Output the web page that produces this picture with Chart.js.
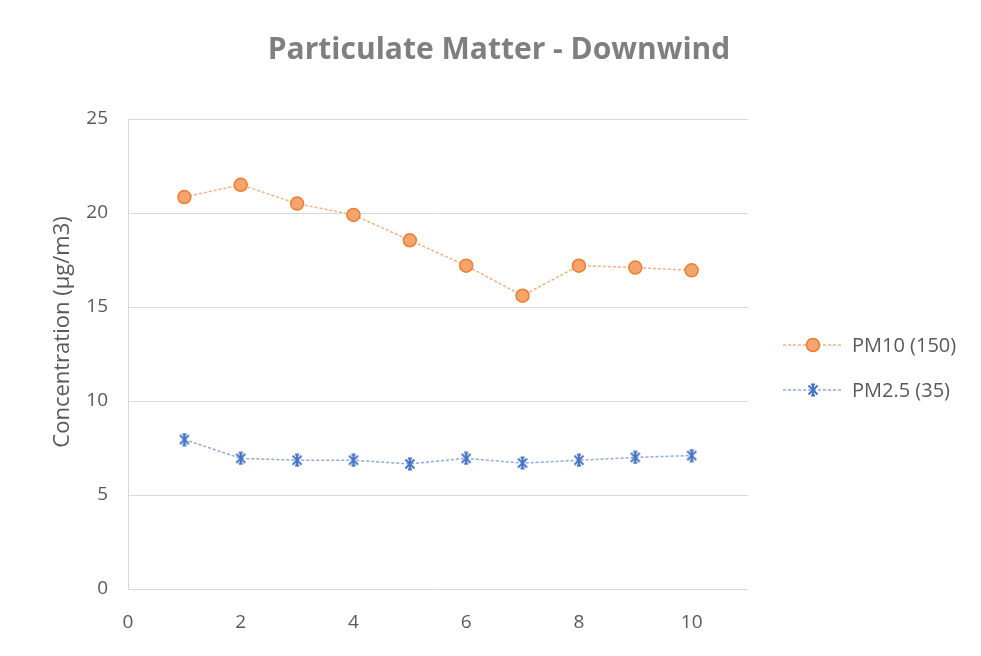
<!DOCTYPE html>
<html>
<head>
<meta charset="utf-8">
<script src="https://cdn.jsdelivr.net/npm/chart.js@4"></script>
<style>
  html, body { margin: 0; padding: 0; background: #fff; }
  #wrap { width: 981px; height: 656px; position: relative; }
</style>
</head>
<body>
<div id="wrap"><canvas id="chart" width="981" height="656"></canvas></div>
<script>
// Data
const samples = [1, 2, 3, 4, 5, 6, 7, 8, 9, 10];
const pm10 = [20.85, 21.5, 20.5, 19.9, 18.55, 17.2, 15.6, 17.2, 17.1, 16.95];
const pm25 = [7.95, 6.95, 6.85, 6.85, 6.65, 6.95, 6.7, 6.85, 7.0, 7.1];
const seriesNames = ['PM10 (150)', 'PM2.5 (35)'];
const xTicks = [0, 2, 4, 6, 8, 10];
const chartTitle = 'Particulate Matter - Downwind';
const yTitle = 'Concentration (\u00b5g/m3)';

const FONT = "'Open Sans', 'Liberation Sans', sans-serif";
const GREY = '#595959';

// Excel-like star marker (x with vertical bar and small caps)
function starMarker(color) {
    const c = document.createElement('canvas');
    c.width = 14; c.height = 14;
    const g = c.getContext('2d');
    g.strokeStyle = color;
    g.lineWidth = 2;
    g.beginPath();
    g.moveTo(2.5, 2.5); g.lineTo(11.5, 11.5);
    g.moveTo(11.5, 2.5); g.lineTo(2.5, 11.5);
    g.moveTo(7, 1); g.lineTo(7, 13);
    g.moveTo(5, 1.5); g.lineTo(9, 1.5);
    g.moveTo(5, 12.5); g.lineTo(9, 12.5);
    g.stroke();
    return c;
}
const star = starMarker('#4472C4');

// Chart title and y axis title, placed as in the picture
const titles = {
    id: 'titles',
    afterDraw(chart) {
        const ctx = chart.ctx;
        ctx.save();
        ctx.fillStyle = '#7F7F7F';
        ctx.font = 'bold 30px ' + FONT;
        ctx.textAlign = 'center';
        ctx.textBaseline = 'middle';
        ctx.fillText(chartTitle, 499, 50);
        ctx.translate(63, 332);
        ctx.rotate(-Math.PI / 2);
        ctx.fillStyle = GREY;
        ctx.font = '22px ' + FONT;
        ctx.fillText(yTitle, 0, 0);
        ctx.restore();
    }
};

// Legend drawn to the right of the plot, line + marker + text
const sideLegend = {
    id: 'sideLegend',
    afterDraw(chart) {
        const ctx = chart.ctx;
        const ys = [345, 390];
        chart.data.datasets.forEach((ds, i) => {
            const y = ys[i];
            ctx.save();
            ctx.strokeStyle = ds.borderColor;
            ctx.lineWidth = 1.5;
            ctx.setLineDash([3, 2]);
            ctx.beginPath();
            ctx.moveTo(783, y); ctx.lineTo(842, y);
            ctx.stroke();
            ctx.setLineDash([]);
            if (i === 0) {
                ctx.fillStyle = ds.pointBackgroundColor;
                ctx.strokeStyle = ds.pointBorderColor;
                ctx.lineWidth = 1.5;
                ctx.beginPath();
                ctx.arc(813, y, 6.5, 0, Math.PI * 2);
                ctx.fill(); ctx.stroke();
            } else {
                ctx.drawImage(star, 806, y - 7);
            }
            ctx.fillStyle = GREY;
            ctx.font = '20px ' + FONT;
            ctx.textBaseline = 'middle';
            ctx.fillText(seriesNames[i], 852, y + 1);
            ctx.restore();
        });
    }
};

new Chart(document.getElementById('chart'), {
    type: 'line',
    data: {
        datasets: [
            {
                label: seriesNames[0],
                data: samples.map((x, i) => ({ x: x, y: pm10[i] })),
                borderColor: '#F4B183',
                borderWidth: 1.5,
                borderDash: [3, 2],
                pointStyle: 'circle',
                pointRadius: 6.5,
                pointBackgroundColor: '#F5A46E',
                pointBorderColor: '#ED7D31',
                pointBorderWidth: 1.5,
                tension: 0
            },
            {
                label: seriesNames[1],
                data: samples.map((x, i) => ({ x: x, y: pm25[i] })),
                borderColor: '#8FAADC',
                borderWidth: 1.5,
                borderDash: [3, 2],
                pointStyle: star,
                pointRadius: 7,
                tension: 0
            }
        ]
    },
    options: {
        responsive: false,
        animation: false,
        layout: { padding: { left: 0, right: 233, top: 119, bottom: 0 } },
        plugins: {
            legend: { display: false },
            tooltip: { enabled: false },
            title: { display: false }
        },
        scales: {
            x: {
                type: 'linear',
                min: 0,
                max: 11,
                afterBuildTicks: s => { s.ticks = xTicks.map(v => ({ value: v })); },
                ticks: { color: GREY, font: { family: FONT, size: 19 }, padding: 14 },
                grid: { display: false },
                border: { display: false },
                afterFit: s => { s.height = 67; }
            },
            y: {
                min: 0,
                max: 25,
                ticks: { stepSize: 5, color: GREY, font: { family: FONT, size: 19 }, padding: 20 },
                grid: { color: '#D9D9D9', drawTicks: false },
                border: { display: true, color: '#D9D9D9' },
                afterFit: s => { s.width = 128; }
            }
        }
    },
    plugins: [sideLegend, titles]
});
</script>
</body>
</html>
